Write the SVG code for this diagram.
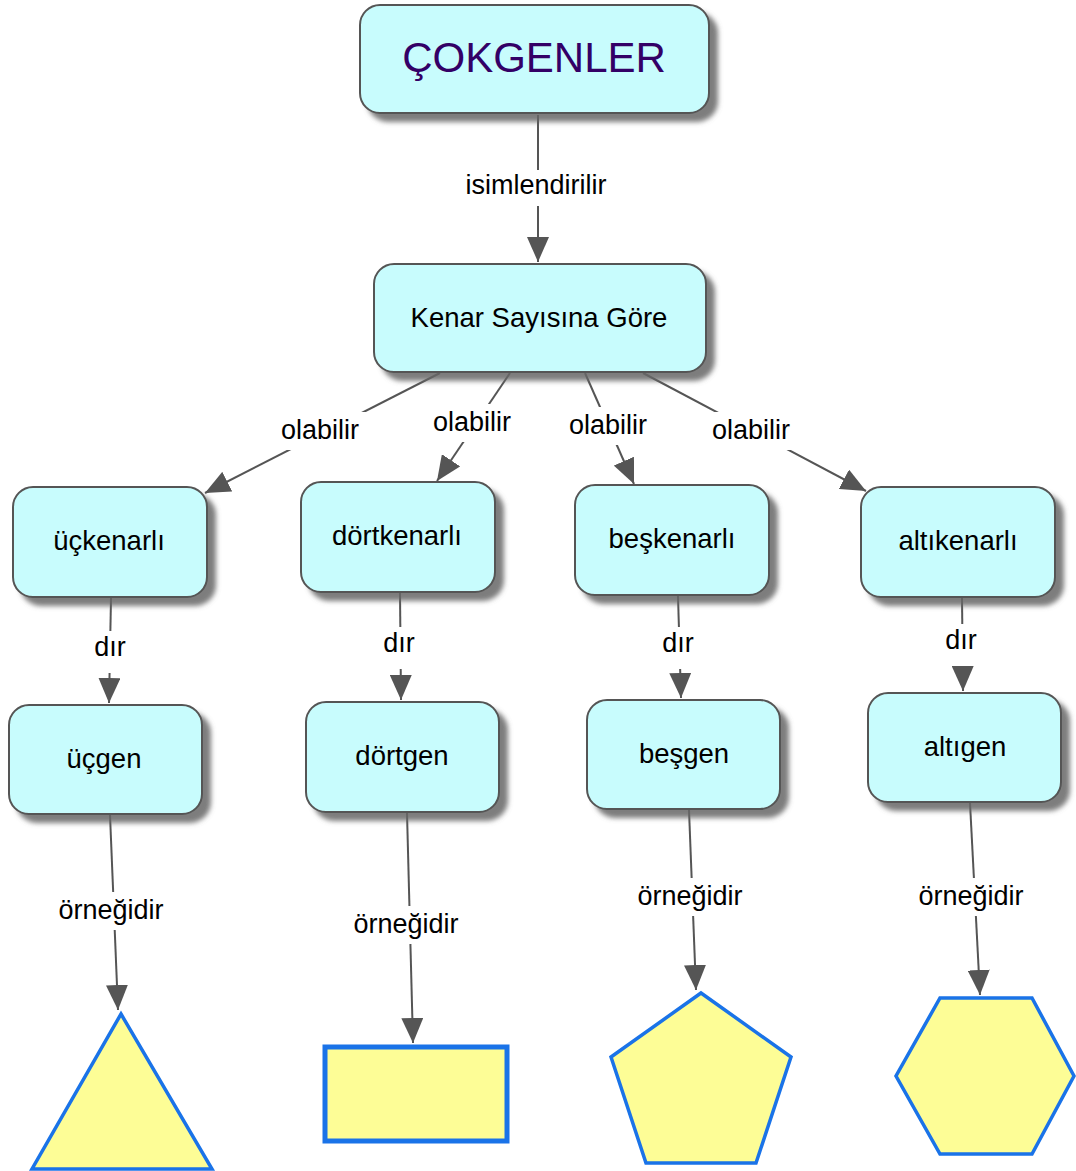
<svg xmlns="http://www.w3.org/2000/svg" width="1076" height="1171" viewBox="0 0 1076 1171">
<defs>
<filter id="sh" x="-10%" y="-10%" width="130%" height="140%">
<feGaussianBlur in="SourceAlpha" stdDeviation="2.5"/>
<feOffset dx="8" dy="8" result="b"/>
<feFlood flood-color="#666" flood-opacity="0.85"/>
<feComposite in2="b" operator="in"/>
<feMerge><feMergeNode/><feMergeNode in="SourceGraphic"/></feMerge>
</filter>
<marker id="arr" markerUnits="userSpaceOnUse" markerWidth="26" markerHeight="22" refX="25" refY="11" orient="auto">
<path d="M0,0 L25,11 L0,22 z" fill="#555"/>
</marker>
</defs>
<style>
.node rect{fill:#c8fcfd;stroke:#555;stroke-width:2;filter:url(#sh)}
.node text{font-family:"Liberation Sans",Arial,sans-serif;font-size:27.5px;fill:#000;text-anchor:middle}
.conn path{stroke:#555;stroke-width:2;fill:none;marker-end:url(#arr)}
.lbl rect{fill:#fff}
.lbl text{font-family:"Liberation Sans",Arial,sans-serif;font-size:27px;fill:#000;text-anchor:middle}
.shape{fill:#fdfd96;stroke:#1a73e8;stroke-width:3.5;stroke-linejoin:miter}
</style>
<g id="connectors" class="conn">
<path d="M538,115 L538,262"/>
<path d="M440,373 L205,493"/>
<path d="M510,373 L437,481"/>
<path d="M585,373 L634,484"/>
<path d="M643,373 L866,491"/>
<path d="M111,598 L109,703"/>
<path d="M400,593 L401,700"/>
<path d="M678,596 L681,698"/>
<path d="M962,598 L963,691"/>
<path d="M110,815 L118,1010"/>
<path d="M407,813 L413,1043"/>
<path d="M689,810 L696,990"/>
<path d="M970,803 L980,995"/>
</g>
<g id="labels" class="lbl">
<rect x="456" y="170" width="160" height="36"/><text x="536" y="194">isimlendirilir</text>
<rect x="274" y="412" width="92" height="38"/><text x="320" y="439">olabilir</text>
<rect x="426" y="404" width="92" height="38"/><text x="472" y="431">olabilir</text>
<rect x="562" y="407" width="92" height="38"/><text x="608" y="434">olabilir</text>
<rect x="705" y="412" width="92" height="38"/><text x="751" y="439">olabilir</text>
<rect x="90" y="631" width="40" height="42"/><text x="110" y="656">dır</text>
<rect x="379" y="627" width="40" height="42"/><text x="399" y="652">dır</text>
<rect x="658" y="627" width="40" height="42"/><text x="678" y="652">dır</text>
<rect x="941" y="624" width="40" height="42"/><text x="961" y="649">dır</text>
<rect x="52" y="892" width="118" height="38"/><text x="111" y="919">örneğidir</text>
<rect x="347" y="906" width="118" height="38"/><text x="406" y="933">örneğidir</text>
<rect x="631" y="878" width="118" height="38"/><text x="690" y="905">örneğidir</text>
<rect x="912" y="878" width="118" height="38"/><text x="971" y="905">örneğidir</text>
</g>
<g id="n-cokgenler" class="node"><rect x="360" y="5" width="349" height="108" rx="20"/><text x="534" y="72" style="font-size:42px;fill:#330066">ÇOKGENLER</text></g>
<g id="n-kenar" class="node"><rect x="374" y="264" width="332" height="108" rx="20"/><text x="539" y="327">Kenar Sayısına Göre</text></g>
<g id="n-uckenarli" class="node"><rect x="13" y="487" width="194" height="110" rx="20"/><text x="109" y="550">üçkenarlı</text></g>
<g id="n-dortkenarli" class="node"><rect x="301" y="482" width="194" height="110" rx="20"/><text x="397" y="545">dörtkenarlı</text></g>
<g id="n-beskenarli" class="node"><rect x="575" y="485" width="194" height="110" rx="20"/><text x="672" y="548">beşkenarlı</text></g>
<g id="n-altikenarli" class="node"><rect x="861" y="487" width="194" height="110" rx="20"/><text x="958" y="550">altıkenarlı</text></g>
<g id="n-ucgen" class="node"><rect x="9" y="705" width="193" height="109" rx="20"/><text x="104" y="768">üçgen</text></g>
<g id="n-dortgen" class="node"><rect x="306" y="702" width="193" height="110" rx="20"/><text x="402" y="765">dörtgen</text></g>
<g id="n-besgen" class="node"><rect x="587" y="700" width="193" height="109" rx="20"/><text x="684" y="763">beşgen</text></g>
<g id="n-altigen" class="node"><rect x="868" y="693" width="193" height="109" rx="20"/><text x="965" y="756">altıgen</text></g>
<g id="s-triangle"><polygon class="shape" points="121,1014 212,1169 32,1169"/></g>
<g id="s-rect"><rect class="shape" x="325" y="1047" width="182" height="94" style="stroke-width:5"/></g>
<g id="s-pentagon"><polygon class="shape" points="701,993 791,1057 756,1163 646,1163 611,1057"/></g>
<g id="s-hexagon"><polygon class="shape" points="940,998 1032,998 1074,1076 1032,1154 940,1154 896,1076"/></g>
</svg>
